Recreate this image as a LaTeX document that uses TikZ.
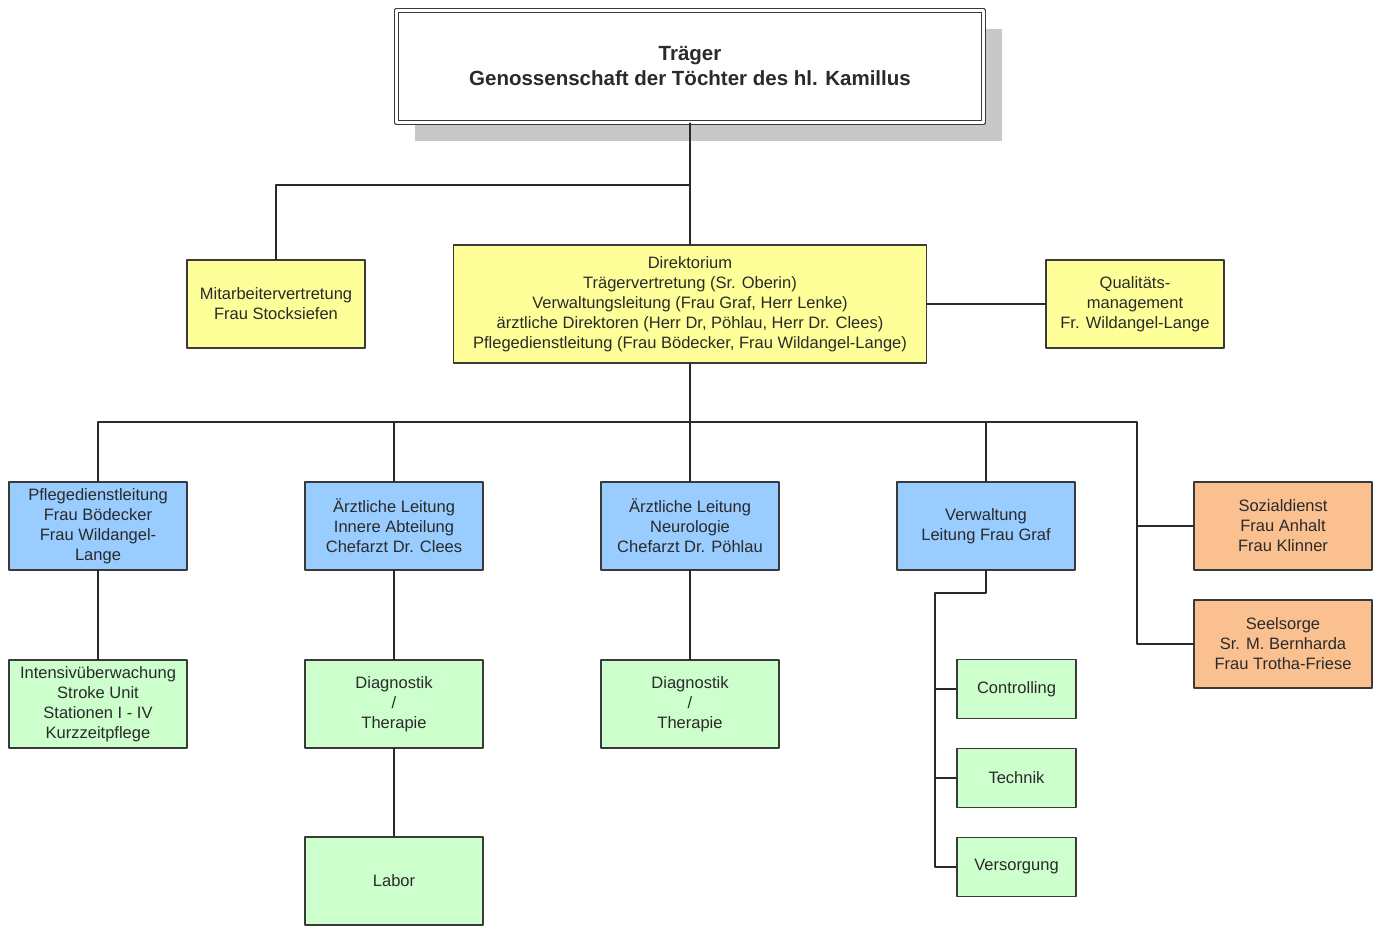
\documentclass[tikz,border=0pt]{standalone}
\usepackage{fontspec}
\setmainfont{Liberation Sans}
\usepackage{tikz}
\usetikzlibrary{positioning,calc,shadows}
\definecolor{boxline}{HTML}{3A3A3A}
\definecolor{ink}{HTML}{2A2A2A}
\definecolor{softyellow}{HTML}{FFFF99}
\definecolor{softblue}{HTML}{99CCFF}
\definecolor{softgreen}{HTML}{CCFFCC}
\definecolor{softorange}{HTML}{FAC090}
\definecolor{shadowgray}{HTML}{C8C8C8}
\tikzset{
    every picture/.style={line cap=round,line join=round},
    orgbox/.style={draw=boxline,line width=1.1pt,
      minimum width=178pt,minimum height=88pt,inner sep=2pt,
      text=ink,align=center,font=\fontsize{16.5}{20}\selectfont},
    topbox/.style={draw=boxline,fill=white,line width=1.3pt,double=white,
      double distance=3pt,minimum width=587pt,minimum height=112pt,
      drop shadow={shadow xshift=18pt,shadow yshift=-18pt,fill=shadowgray,opacity=1},
      align=center,font=\fontsize{20.5}{25}\selectfont\bfseries,text=ink},
    staff/.style={orgbox,fill=softyellow},
    lead/.style={orgbox,fill=softblue},
    unit/.style={orgbox,fill=softgreen},
    service/.style={orgbox,fill=softorange},
    smallunit/.style={unit,minimum width=119pt,minimum height=59pt},
    orgline/.style={draw=ink,line width=1.5pt}
}

\begin{document}
\begin{tikzpicture}[x=1pt,y=-1pt]
  \useasboundingbox (0,0) rectangle (1377,926);
  \node[topbox] (traeger) at (690,66.5) {Träger\\Genossenschaft der Töchter des hl. Kamillus};
  \node[staff] (mitarb) at (276,304) {Mitarbeitervertretung\\Frau Stocksiefen};
  \node[staff,minimum width=473pt,minimum height=118pt] (direkt) at (690,304)
    {Direktorium\\Trägervertretung (Sr. Oberin)\\Verwaltungsleitung (Frau Graf, Herr Lenke)\\
     ärztliche Direktoren (Herr Dr, Pöhlau, Herr Dr. Clees)\\
     Pflegedienstleitung (Frau Bödecker, Frau Wildangel-Lange)};
  \node[staff] (quali) at (1135,304) {Qualitäts-\\management\\Fr. Wildangel-Lange};
  \node[lead] (pflege) at (98,526) {Pflegedienstleitung\\Frau Bödecker\\Frau Wildangel-\\Lange};
  \node[lead] (innere) at (394,526) {Ärztliche Leitung\\Innere Abteilung\\Chefarzt Dr. Clees};
  \node[lead] (neuro) at (690,526) {Ärztliche Leitung\\Neurologie\\Chefarzt Dr. Pöhlau};
  \node[lead] (verw) at (986,526) {Verwaltung\\Leitung Frau Graf};
  \node[service] (sozial) at (1283,526) {Sozialdienst\\Frau Anhalt\\Frau Klinner};
  \node[service] (seel) at (1283,644) {Seelsorge\\Sr. M. Bernharda\\Frau Trotha-Friese};
  \node[unit] (intens) at (98,704) {Intensivüberwachung\\Stroke Unit\\Stationen I - IV\\Kurzzeitpflege};
  \node[unit] (diag1) at (394,704) {Diagnostik\\/\\Therapie};
  \node[unit] (labor) at (394,881) {Labor};
  \node[unit] (diag2) at (690,704) {Diagnostik\\/\\Therapie};
  \node[smallunit] (contr) at (1016.5,689) {Controlling};
  \node[smallunit] (technik) at (1016.5,778) {Technik};
  \node[smallunit] (versorg) at (1016.5,867) {Versorgung};

  \coordinate (topfork) at (690,185);
  \coordinate (bus) at (690,422);
  \coordinate (sidebus) at (1137,422);
  \coordinate (vfork) at (935,593);
  \draw[orgline] (traeger.south) -- (direkt.north);
  \draw[orgline] (topfork) -| (mitarb.north);
  \draw[orgline] (direkt.east) -- (quali.west);
  \draw[orgline] (direkt.south) -- (bus);
  \draw[orgline] (pflege.north) |- (sidebus) |- (seel.west);
  \draw[orgline] (sozial.west) -- (sozial.west -| sidebus);
  \foreach \n in {innere,neuro,verw}
    \draw[orgline] (\n.north) -- (\n.north |- bus);
  \draw[orgline] (pflege) -- (intens);
  \draw[orgline] (innere) -- (diag1) -- (labor);
  \draw[orgline] (neuro) -- (diag2);
  \draw[orgline] (verw.south) |- (vfork) |- (versorg.west);
  \foreach \n in {contr,technik}
    \draw[orgline] (\n.west) -- (\n.west -| vfork);
\end{tikzpicture}
\end{document}
